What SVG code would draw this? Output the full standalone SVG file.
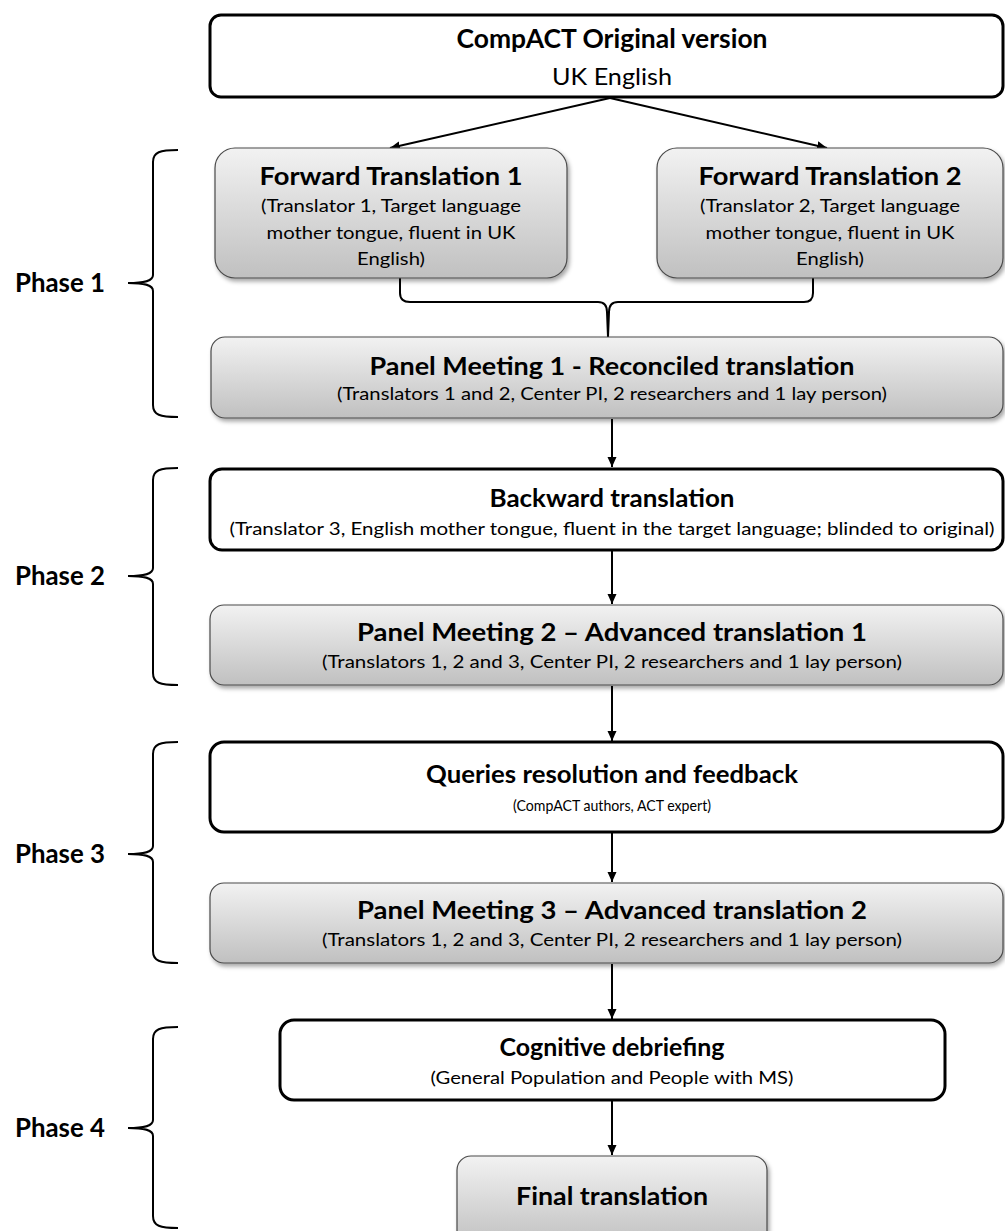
<svg xmlns="http://www.w3.org/2000/svg" width="1005" height="1231" viewBox="0 0 1005 1231">
<defs>
<linearGradient id="g" x1="0" y1="0" x2="0" y2="1">
<stop offset="0" stop-color="#f2f2f2"/>
<stop offset="1" stop-color="#c0c0c0"/>
</linearGradient>
<filter id="sh" x="-5%" y="-10%" width="110%" height="130%">
<feDropShadow dx="2" dy="3" stdDeviation="2" flood-color="#000" flood-opacity="0.35"/>
</filter>
<marker id="ah" markerUnits="userSpaceOnUse" markerWidth="12" markerHeight="10" refX="10" refY="4.5" orient="auto">
<path d="M0,0 L10,4.5 L0,9 z" fill="#000"/>
</marker>
<style>
.t{font-family:Lato,"Noto Sans","Liberation Sans",sans-serif;fill:#000;text-anchor:middle}
.b{font-weight:bold;font-size:24px}
.r{font-size:18px}
.s{font-size:15px}
.ph{font-family:Lato,"Noto Sans","Liberation Sans",sans-serif;font-weight:bold;font-size:26px;fill:#000}
.wb{fill:#fff;stroke:#000;stroke-width:3}
.gb{fill:url(#g);stroke:#4a4a4a;stroke-width:1.2;filter:url(#sh)}
.c{fill:none;stroke:#000;stroke-width:2}
.br{fill:none;stroke:#000;stroke-width:2}
</style>
</defs>

<g id="connectors">
<line class="c" x1="610" y1="98" x2="390" y2="148" marker-end="url(#ah)"/>
<line class="c" x1="610" y1="98" x2="827" y2="148" marker-end="url(#ah)"/>
<path class="c" d="M400,278 L400,293 Q400,302 410,302 L598,302 Q607,302 607,312 L608,337 M608,337 L609,312 Q609,302 618,302 L804,302 Q813,302 813,293 L813,278"/>
<line class="c" x1="612" y1="419" x2="612" y2="467" marker-end="url(#ah)"/>
<line class="c" x1="612" y1="551" x2="612" y2="604" marker-end="url(#ah)"/>
<line class="c" x1="612" y1="686" x2="612" y2="741" marker-end="url(#ah)"/>
<line class="c" x1="612" y1="833" x2="612" y2="882" marker-end="url(#ah)"/>
<line class="c" x1="612" y1="964" x2="612" y2="1019" marker-end="url(#ah)"/>
<line class="c" x1="612" y1="1101" x2="612" y2="1155" marker-end="url(#ah)"/>
</g>

<g id="phases">
<g id="phase1">
<path class="br" d="M178,150 C160,150 153,152 153,162 L153,275 C153,281 145,283 128,283 C145,283 153,285 153,291 L153,405 C153,415 160,417 178,417"/>
<text class="ph" x="15" y="292" textLength="90" lengthAdjust="spacingAndGlyphs">Phase 1</text>
</g>
<g id="phase2">
<path class="br" d="M178,468 C160,468 153,470 153,480 L153,568 C153,574 145,576 128,576 C145,576 153,578 153,584 L153,673 C153,683 160,685 178,685"/>
<text class="ph" x="15" y="585" textLength="90" lengthAdjust="spacingAndGlyphs">Phase 2</text>
</g>
<g id="phase3">
<path class="br" d="M178,742 C160,742 153,744 153,754 L153,846 C153,852 145,854 128,854 C145,854 153,856 153,862 L153,951 C153,961 160,963 178,963"/>
<text class="ph" x="15" y="863" textLength="90" lengthAdjust="spacingAndGlyphs">Phase 3</text>
</g>
<g id="phase4">
<path class="br" d="M178,1027 C160,1027 153,1029 153,1039 L153,1120 C153,1126 145,1128 128,1128 C145,1128 153,1130 153,1136 L153,1216 C153,1226 160,1228 178,1228"/>
<text class="ph" x="15" y="1137" textLength="90" lengthAdjust="spacingAndGlyphs">Phase 4</text>
</g>
</g>

<g id="original">
<rect class="wb" x="210" y="15" width="793" height="82" rx="11"/>
<text class="t b" x="612" y="48" textLength="311" lengthAdjust="spacingAndGlyphs" style="font-size:26px">CompACT Original version</text>
<text class="t" x="612" y="85" style="font-size:24px" textLength="120" lengthAdjust="spacingAndGlyphs">UK English</text>
</g>

<g id="forward1">
<rect class="gb" x="215" y="148" width="352" height="130" rx="20"/>
<text class="t b" x="391" y="185" textLength="263" lengthAdjust="spacingAndGlyphs">Forward Translation 1</text>
<text class="t r" x="391" y="212" textLength="260" lengthAdjust="spacingAndGlyphs">(Translator 1, Target language</text>
<text class="t r" x="391" y="239" textLength="249" lengthAdjust="spacingAndGlyphs">mother tongue, fluent in UK</text>
<text class="t r" x="391" y="265" textLength="68" lengthAdjust="spacingAndGlyphs">English)</text>
</g>

<g id="forward2">
<rect class="gb" x="657" y="148" width="346" height="130" rx="20"/>
<text class="t b" x="830" y="185" textLength="263" lengthAdjust="spacingAndGlyphs">Forward Translation 2</text>
<text class="t r" x="830" y="212" textLength="260" lengthAdjust="spacingAndGlyphs">(Translator 2, Target language</text>
<text class="t r" x="830" y="239" textLength="249" lengthAdjust="spacingAndGlyphs">mother tongue, fluent in UK</text>
<text class="t r" x="830" y="265" textLength="68" lengthAdjust="spacingAndGlyphs">English)</text>
</g>

<g id="panel1">
<rect class="gb" x="211" y="337" width="792" height="81" rx="14"/>
<text class="t b" x="612" y="375" textLength="485" lengthAdjust="spacingAndGlyphs">Panel Meeting 1 - Reconciled translation</text>
<text class="t r" x="612" y="400" textLength="550" lengthAdjust="spacingAndGlyphs">(Translators 1 and 2, Center PI, 2 researchers and 1 lay person)</text>
</g>

<g id="backward">
<rect class="wb" x="210" y="469" width="793" height="81" rx="12"/>
<text class="t b" x="612" y="507" textLength="245" lengthAdjust="spacingAndGlyphs">Backward translation</text>
<text class="t r" x="612" y="535" textLength="765" lengthAdjust="spacingAndGlyphs">(Translator 3, English mother tongue, fluent in the target language; blinded to original)</text>
</g>

<g id="panel2">
<rect class="gb" x="210" y="605" width="793" height="80" rx="14"/>
<text class="t b" x="612" y="641" textLength="510" lengthAdjust="spacingAndGlyphs">Panel Meeting 2 – Advanced translation 1</text>
<text class="t r" x="612" y="668" textLength="580" lengthAdjust="spacingAndGlyphs">(Translators 1, 2 and 3, Center PI, 2 researchers and 1 lay person)</text>
</g>

<g id="queries">
<rect class="wb" x="210" y="742" width="793" height="90" rx="14"/>
<text class="t b" x="612" y="783" textLength="372" lengthAdjust="spacingAndGlyphs">Queries resolution and feedback</text>
<text class="t s" x="612" y="811" textLength="198" lengthAdjust="spacingAndGlyphs">(CompACT authors, ACT expert)</text>
</g>

<g id="panel3">
<rect class="gb" x="210" y="883" width="793" height="80" rx="14"/>
<text class="t b" x="612" y="919" textLength="510" lengthAdjust="spacingAndGlyphs">Panel Meeting 3 – Advanced translation 2</text>
<text class="t r" x="612" y="946" textLength="580" lengthAdjust="spacingAndGlyphs">(Translators 1, 2 and 3, Center PI, 2 researchers and 1 lay person)</text>
</g>

<g id="cognitive">
<rect class="wb" x="280" y="1020" width="665" height="80" rx="14"/>
<text class="t b" x="612" y="1056" textLength="225" lengthAdjust="spacingAndGlyphs">Cognitive debriefing</text>
<text class="t r" x="612" y="1084" textLength="363" lengthAdjust="spacingAndGlyphs">(General Population and People with MS)</text>
</g>

<g id="final">
<rect class="gb" x="457" y="1156" width="310" height="90" rx="14"/>
<text class="t b" x="612" y="1205" textLength="192" lengthAdjust="spacingAndGlyphs">Final translation</text>
</g>
</svg>
